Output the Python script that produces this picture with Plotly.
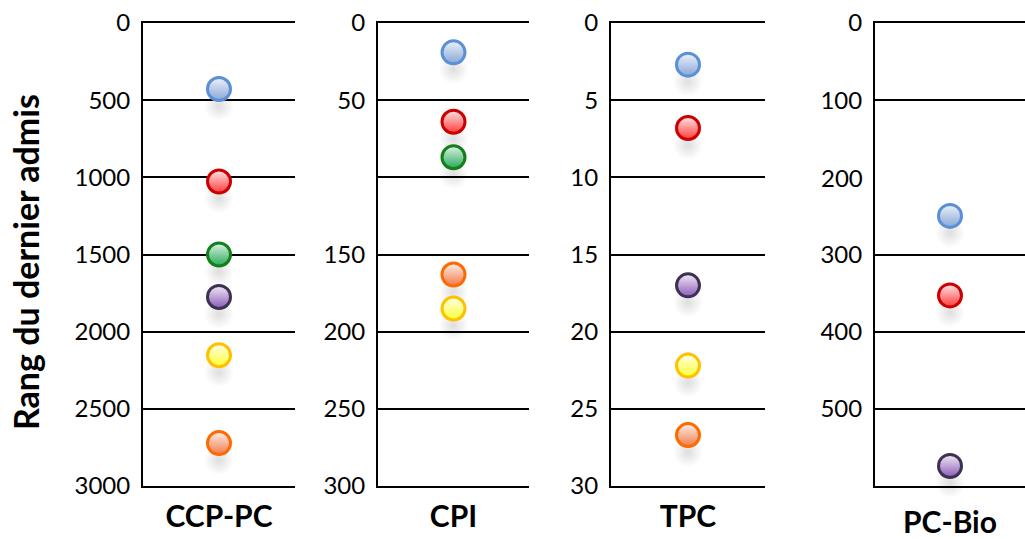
import plotly.graph_objects as go

W, H = 1025, 539

# ---------------- data ----------------
categories = ["CCP-PC", "CPI", "TPC", "PC-Bio"]
series_names = ["bleu", "rouge", "vert", "violet", "jaune", "orange"]

ccp_pc = [428, 1027, 1500, 1775, 2153, 2722]
cpi = [19, 64, 87, None, 185, 163]
tpc = [2.7, 6.8, None, 17.0, 22.2, 26.7]
pc_bio = [250, 353, None, 574, None, None]
values = [ccp_pc, cpi, tpc, pc_bio]

axis_max = [3000, 300, 30, 600]
tick_labels = [
    [0, 500, 1000, 1500, 2000, 2500, 3000],
    [0, 50, 150, 200, 250, 300],
    [0, 5, 10, 15, 20, 25, 30],
    [0, 100, 200, 300, 400, 500],
]
grid_values = [
    [0, 500, 1000, 1500, 2000, 2500, 3000],
    [0, 50, 100, 150, 200, 250, 300],
    [0, 5, 10, 15, 20, 25, 30],
    [0, 100, 300, 400, 500, 600],
]

# ---------------- styles ----------------
line_colors = ["#5b8fd6", "#cc0000", "#12801a", "#3f3151", "#ffc000", "#ff6a00"]
top_colors = ["#eef2fa", "#ffe6e6", "#ddf3e4", "#f1ebf6", "#ffffea", "#fff0e6"]
bottom_colors = ["#86a6d6", "#ff3c3c", "#28a85a", "#8a5ab8", "#ffff30", "#f07a4a"]

# positions in page pixels
panel_px = [(143, 295), (378, 529), (611, 765), (875, 1031)]
label_standoff = [3, 3, 3, 9]
y_top, y_bot = 23, 486
shadow_dy = 17
tick_gap = 6

FONT = "Lato"
tick_font = dict(family=FONT, size=24, color="black")

fig = go.Figure()
layout = dict(
    width=W, height=H, margin=dict(l=0, r=0, t=0, b=0, autoexpand=False),
    paper_bgcolor="white", plot_bgcolor="rgba(0,0,0,0)",
    showlegend=False,
)

ydom = [1 - y_bot / H, 1 - y_top / H]
ydom_sh = [ydom[0] - shadow_dy / H, ydom[1] - shadow_dy / H]

for i, cat in enumerate(categories):
    n = i + 1
    xs = "" if n == 1 else str(n)
    ysh = "" if n == 1 else str(n)          # shadow axis
    ym = str(n + 4)                          # grid / marker axis
    x0, x1 = panel_px[i]
    rng = [axis_max[i], 0]

    layout["xaxis" + xs] = dict(
        domain=[x0 / W, min(1, x1 / W)], anchor="y" + ym, automargin=False,
        type="category", range=[-0.5, 0.5], showgrid=False, zeroline=False,
        showline=True, mirror=True, linecolor="black", linewidth=2,
        ticks="", ticklabelstandoff=label_standoff[i],
        ticklabeloverflow="allow",
        tickfont=dict(family=FONT, size=30, color="black", weight="bold"),
        fixedrange=True,
    )
    layout["yaxis" + ysh] = dict(
        domain=ydom_sh, anchor="x" + xs, range=rng, visible=False,
        automargin=False, showgrid=False, zeroline=False, fixedrange=True,
    )
    layout["yaxis" + ym] = dict(
        domain=ydom, anchor="x" + xs, range=rng, automargin=False,
        tickmode="array", tickvals=grid_values[i],
        ticktext=[str(v) if v in tick_labels[i] else "" for v in grid_values[i]],
        ticks="", ticklabelstandoff=tick_gap, tickfont=tick_font,
        ticklabeloverflow="allow",
        showgrid=True, gridcolor="black", gridwidth=2,
        zeroline=False, showline=True, linecolor="black", linewidth=2,
        fixedrange=True,
    )
    # labels that have no grid line of their own
    for v in tick_labels[i]:
        if v not in grid_values[i]:
            fig.add_annotation(
                text=str(v), xref="paper", yref="y" + ym,
                x=(x0 - 10) / W, y=v, xanchor="right",
                yanchor="middle", showarrow=False, font=tick_font,
            )

    vals = values[i]
    for s, v in enumerate(vals):
        if v is None:
            continue
        # soft shadow (same value, drawn on the slightly lowered twin axis)
        fig.add_trace(go.Scatter(
            x=[cat], y=[v], xaxis="x" + xs, yaxis="y" + ysh,
            mode="markers", hoverinfo="skip", name=series_names[s] + " ombre",
            marker=dict(size=30, color="rgba(0,0,0,0.0)",
                        gradient=dict(type="radial", color="rgba(0,0,0,0.13)"),
                        line=dict(width=0)),
        ))
    for s, v in enumerate(vals):
        if v is None:
            continue
        fig.add_trace(go.Scatter(
            x=[cat], y=[v], xaxis="x" + xs, yaxis="y" + ym,
            mode="markers", name=series_names[s],
            marker=dict(size=23, color=top_colors[s],
                        gradient=dict(type="vertical", color=bottom_colors[s]),
                        line=dict(width=3, color=line_colors[s])),
        ))

fig.update_layout(**layout)

fig.add_annotation(
    text="<b>Rang du dernier admis</b>", textangle=-90,
    xref="paper", yref="paper", x=25 / W, y=1 - 262 / H,
    xanchor="center", yanchor="middle", showarrow=False,
    font=dict(family=FONT, size=34, color="black"),
)

fig.write_html(
    "out.html",
    config={"displayModeBar": False},
    post_script="document.body.style.margin='0';document.body.style.overflow='hidden';",
)
